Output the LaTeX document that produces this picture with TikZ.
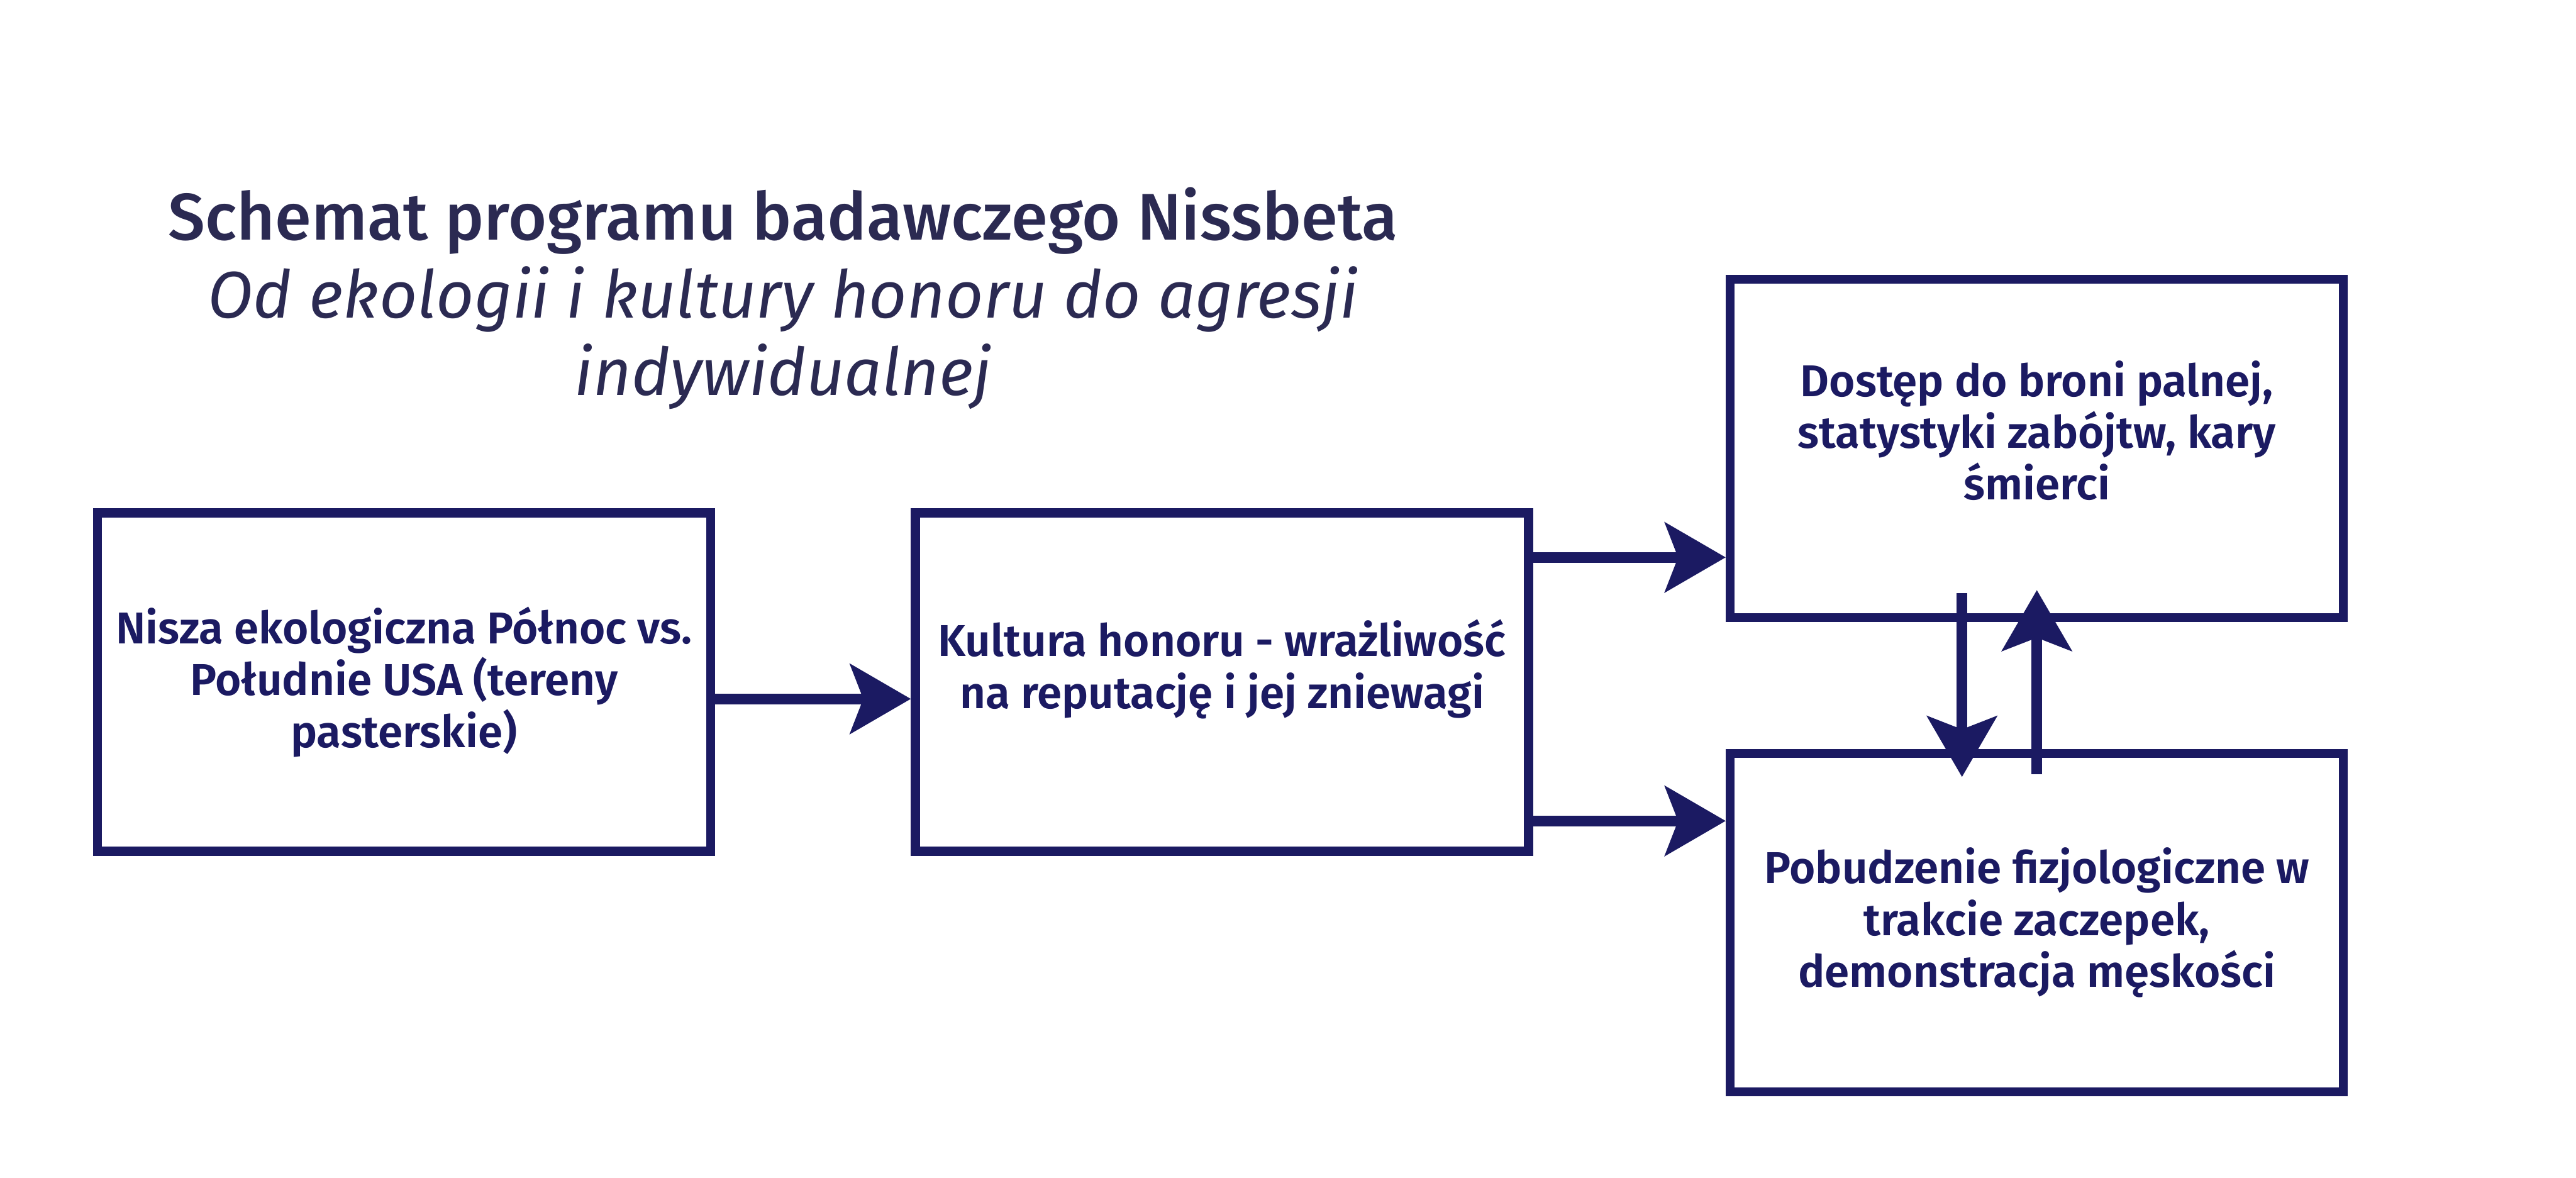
\documentclass[tikz,border=0pt]{standalone}
\usepackage{fontspec}
\setmainfont{Fira Sans}[BoldFont={Fira Sans SemiBold}]
\newfontfamily\headfont{Fira Sans Medium}
\usetikzlibrary{arrows.meta,positioning}
\definecolor{NissNavy}{RGB}{27,26,98}
\definecolor{TitleInk}{RGB}{43,42,82}

\tikzset{
  stage/.style={draw=NissNavy,line width=0.21cm,minimum width=14.17cm,
    minimum height=7.82cm,text=NissNavy,align=center,
    font=\bfseries\fontsize{29.3}{34}\selectfont},
  flow/.style={NissNavy,line width=0.25cm,
    -{Stealth[length=1.4cm,width=1.6cm,inset=0.3cm]}},
  headline/.style={text=TitleInk,anchor=base,inner sep=0pt,
    font=\headfont\fontsize{43.4}{51}\selectfont},
  subline/.style={headline,font=\itshape\fontsize{43.4}{51}\selectfont}
}

\begin{document}
\begin{tikzpicture}
  \useasboundingbox (0,0) rectangle (59.53,-27.22);
  % title
  \node[headline] (title) at (18.10,-5.54) {Schemat programu badawczego Nissbeta};
  \node[subline] (sub1) at (18.10,-7.35) {Od ekologii i kultury honoru do agresji};
  \node[subline] (sub2) at (18.10,-9.14) {indywidualnej};
  % boxes
  \node[stage] (niche) at (9.335,-15.76)
    {Nisza ekologiczna Północ vs.\\Południe USA (tereny\\pasterskie)};
  \node[stage] (honor) at (28.24,-15.76)
    {Kultura honoru - wrażliwość\\na reputację i jej zniewagi\\[-0.36cm]};
  \node[stage] (guns) at (47.07,-10.36)
    {Dostęp do broni palnej,\\statystyki zabójtw, kary\\śmierci\\[-0.36cm]};
  \node[stage] (arousal) at (47.07,-21.32)
    {Pobudzenie fizjologiczne w\\trakcie zaczepek,\\demonstracja męskości};
  % arrows
  \draw[flow] ([yshift=-0.39cm]niche.east) -- ([yshift=-0.39cm]honor.west);
  \draw[flow] ([yshift=2.88cm]honor.east) -- ([yshift=2.88cm]honor.east -| guns.west);
  \draw[flow] ([yshift=-3.21cm]honor.east) -- ([yshift=-3.21cm]honor.east -| arousal.west);
  \draw[flow] ([xshift=-1.73cm,yshift=0.67cm]guns.south)
    -- ([xshift=-1.73cm,yshift=-0.65cm]arousal.north);
  \draw[flow] ([yshift=-0.58cm]arousal.north) -- ([yshift=0.74cm]guns.south);
\end{tikzpicture}
\end{document}
